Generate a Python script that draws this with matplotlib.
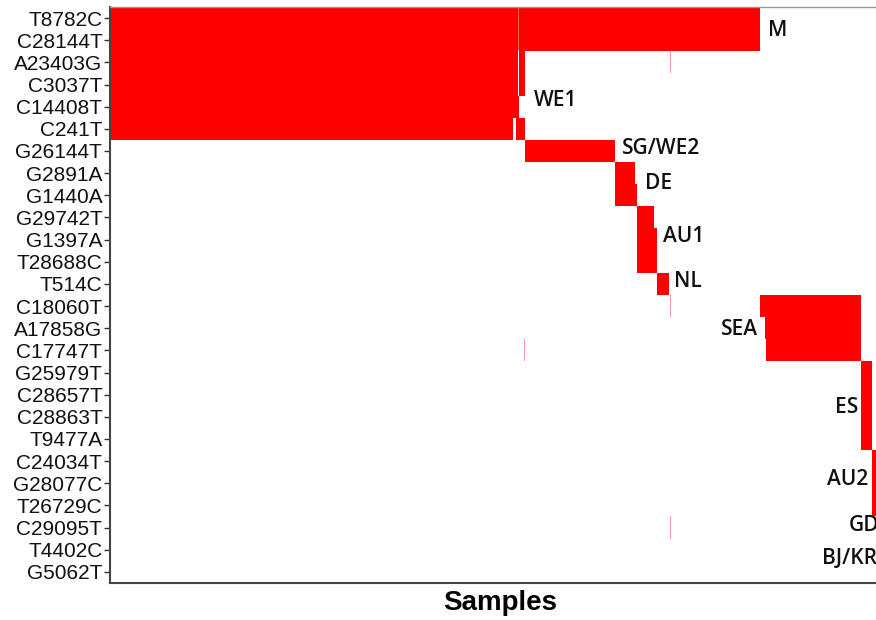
import numpy as np
import matplotlib
matplotlib.use("Agg")
import matplotlib.pyplot as plt
from matplotlib.colors import LinearSegmentedColormap

mutations = ["T8782C", "C28144T", "A23403G", "C3037T", "C14408T", "C241T",
             "G26144T", "G2891A", "G1440A", "G29742T", "G1397A", "T28688C",
             "T514C", "C18060T", "A17858G", "C17747T", "G25979T", "C28657T",
             "C28863T", "T9477A", "C24034T", "G28077C", "T26729C", "C29095T",
             "T4402C", "G5062T"]

# sample groups (left to right): number of samples, mutations fully present,
# and mutations present at low frequency (row index, value)
group_sizes = [1, 402, 3, 2, 1, 5, 1, 90, 20, 2, 17, 3, 12, 1, 1, 89,
               5, 1, 95, 11, 6, 6, 6]
group_rows = [
    [0, 1, 2, 3, 4, 5],
    [0, 1, 2, 3, 4, 5],
    [0, 1, 2, 3, 4],
    [0, 1, 2, 3, 4, 5],
    [4, 5],
    [0, 1, 2, 3, 5],
    [0, 1, 2, 3, 5],
    [0, 1, 6],
    [0, 1, 7, 8],
    [0, 1, 8],
    [0, 1, 9, 10, 11],
    [0, 1, 10, 11],
    [0, 1, 12],
    [0, 1],
    [0, 1],
    [0, 1],
    [13],
    [13, 14],
    [13, 14, 15],
    [16, 17, 18, 19],
    [20, 21, 22],
    [23],
    [24, 25],
]
group_faint = [
    [(17, 0.8)], [], [], [], [(0, 0.6), (1, 0.6)], [], [(15, 0.4)], [], [], [], [], [], [],
    [], [(2, 0.4), (13, 0.4), (23, 0.4)], [], [], [], [], [], [], [], [],
]

clade_labels = ["M", "WE1", "SG/WE2", "DE", "AU1", "NL", "SEA", "ES", "AU2", "GD", "BJ/KR"]
label_x = [658, 423, 511, 535, 553, 564, 647, 748, 758, 738, 712]
label_y = [0.55, 3.7, 5.9, 7.45, 9.88, 11.9, 14.04, 17.6, 20.85, 22.9, 24.4]
label_ha = ["left", "left", "left", "left", "left", "left", "right", "right", "right", "left", "left"]

# build matrix
n_samples = sum(group_sizes)
mat = np.zeros((len(mutations), n_samples))
start = 0
for size, rows, faint in zip(group_sizes, group_rows, group_faint):
    for r in rows:
        mat[r, start:start + size] = 1.0
    for r, v in faint:
        mat[r, start:start + size] = v
    start += size

cmap = LinearSegmentedColormap.from_list("wr", ["#FFFFFF", "#FF0000"])

fig = plt.figure(figsize=(8.76, 6.2), dpi=100)
ax = fig.add_axes([110 / 876, 37 / 620, 780 / 876, 576 / 620])
ax.imshow(mat, cmap=cmap, vmin=0, vmax=1, aspect="auto", interpolation="nearest")
ax.set_xlim(-0.5, n_samples - 0.5)
ax.set_ylim(len(mutations) - 0.5, -0.5)

ax.set_yticks(range(len(mutations)))
ax.set_yticklabels(mutations, fontsize=15, family="Liberation Sans", color="#111111")
ax.set_xticks([])
ax.tick_params(axis="y", length=4, width=1, color="#333333", pad=1.5)

for side in ["left", "bottom"]:
    ax.spines[side].set_color("#444444")
    ax.spines[side].set_linewidth(1.5)
ax.spines["top"].set_color("#999999")
ax.spines["top"].set_linewidth(1.0)
ax.spines["right"].set_visible(False)

ax.set_xlabel("Samples", fontsize=20, fontweight="bold", family="Liberation Sans", labelpad=5)

for t, x, y, ha in zip(clade_labels, label_x, label_y, label_ha):
    ax.text(x, y, t, ha=ha, va="center", fontsize=15, fontweight="semibold",
            family="Open Sans", color="#111111", clip_on=False)

fig.savefig("out.png", dpi=100)
